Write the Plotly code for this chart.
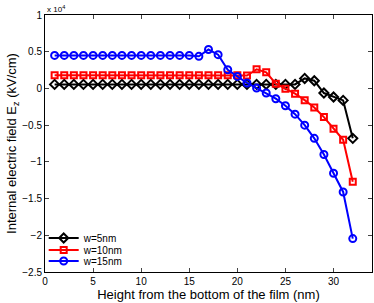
import plotly.graph_objects as go

# Height from the bottom of the film (nm)
height_nm = list(range(1, 33))

# Internal electric field Ez, in units of 1e4 kV/cm
ez_w5 = [0.055] * 26 + [0.136, 0.105, -0.063, -0.117, -0.163, -0.68]
ez_w10 = [0.18] * 20 + [0.175, 0.26, 0.22, 0.064, -0.004, -0.072, -0.16, -0.26, -0.39, -0.55, -0.70, -1.27]
ez_w15 = [0.45] * 15 + [0.437, 0.53, 0.46, 0.255, 0.164, 0.074, 0.005, -0.063, -0.14, -0.236, -0.35, -0.50, -0.68, -0.90, -1.155, -1.41, -2.045]

series_names = ["w=5nm", "w=10nm", "w=15nm"]
series_values = [ez_w5, ez_w10, ez_w15]
series_colors = ["black", "red", "blue"]
series_symbols = ["diamond-open", "square-open", "circle-open"]
series_sizes = [7, 6, 7]

x_ticks = [0, 5, 10, 15, 20, 25, 30]
y_ticks = [1, 0.5, 0, -0.5, -1, -1.5, -2, -2.5]
y_ticklabels = ["1", "0.5", "0", "\u22120.5", "\u22121", "\u22121.5", "\u22122", "\u22122.5"]

legend_ids = ["legend", "legend2", "legend3"]
legend_y = [0.1323, 0.0856, 0.0428]

fig = go.Figure()
for i in range(3):
    fig.add_trace(go.Scatter(
        x=height_nm, y=series_values[i], name=series_names[i], mode="lines+markers",
        line=dict(color=series_colors[i], width=2),
        marker=dict(symbol=series_symbols[i], size=series_sizes[i],
                    color=series_colors[i], line=dict(width=2, color=series_colors[i])),
        legend=legend_ids[i],
    ))

font = "Liberation Sans, Arial, Helvetica, sans-serif"
legend_common = dict(x=-0.004, xanchor="left", yanchor="middle",
                     bgcolor="rgba(0,0,0,0)", font=dict(size=10),
                     itemwidth=30, borderwidth=0)
fig.update_layout(
    width=374, height=303,
    margin=dict(l=45, r=2, t=15, b=31, autoexpand=False),
    paper_bgcolor="white", plot_bgcolor="white",
    font=dict(family=font, color="black", size=10),
    showlegend=True,
    legend=dict(y=legend_y[0], **legend_common),
    legend2=dict(y=legend_y[1], **legend_common),
    legend3=dict(y=legend_y[2], **legend_common),
    xaxis=dict(range=[0, 34], tickvals=x_ticks, ticks="inside", ticklen=4,
               showline=True, linecolor="black", linewidth=1, mirror="ticks",
               showgrid=False, zeroline=False, tickfont=dict(size=10),
               automargin=False,
               title=dict(text="Height from the bottom of the film (nm)",
                          font=dict(size=13), standoff=1)),
    yaxis=dict(range=[-2.5, 1], tickvals=y_ticks, ticktext=y_ticklabels,
               ticks="inside", ticklen=4,
               showline=True, linecolor="black", linewidth=1, mirror="ticks",
               showgrid=False, zeroline=False, tickfont=dict(size=10),
               automargin=False,
               title=dict(text="Internal electric field E<sub>z</sub> (kV/cm)",
                          font=dict(size=13), standoff=2)),
    annotations=[dict(text="x 10<sup>4</sup>", xref="paper", yref="paper",
                      x=0, y=1, xanchor="left", yanchor="bottom",
                      showarrow=False, font=dict(size=8), yshift=-1)],
)

fig.write_html("out.html", config={"displayModeBar": False},
               post_script="document.body.style.margin='0';document.body.style.padding='0';")
